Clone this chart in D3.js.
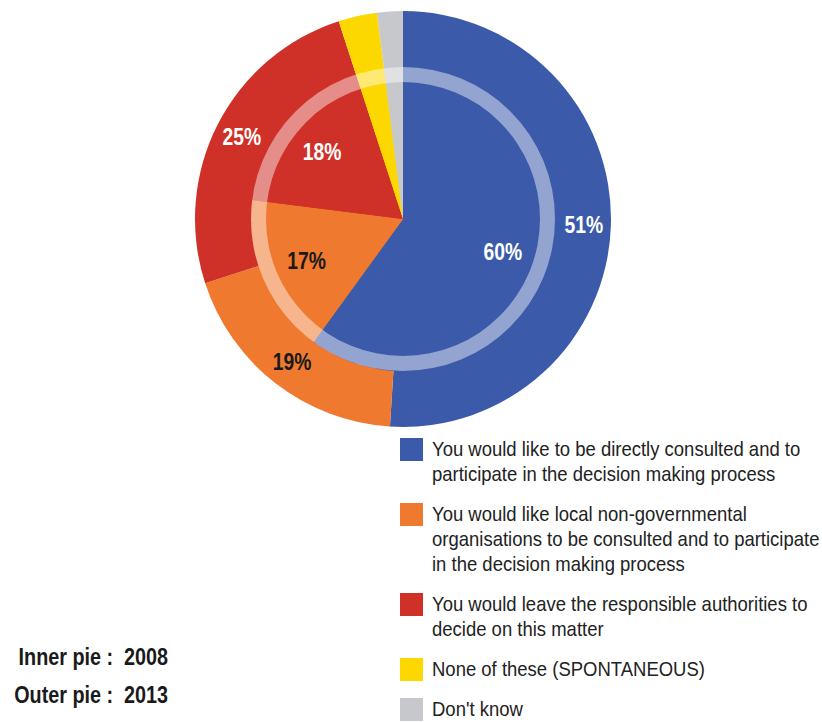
<!DOCTYPE html>
<html>
<head>
<meta charset="utf-8">
<script src="https://cdn.jsdelivr.net/npm/d3@7"></script>
<style>
  body { margin: 0; background: #fff; }
  svg { display: block; }
</style>
</head>
<body>
<div id="chart"></div>
<script>
// answer categories (legend text, "\n" marks the line breaks)
const categories = [
    "You would like to be directly consulted and to\nparticipate in the decision making process",
    "You would like local non-governmental\norganisations to be consulted and to participate\nin the decision making process",
    "You would leave the responsible authorities to\ndecide on this matter",
    "None of these (SPONTANEOUS)",
    "Don't know"
];
const inner2008 = [60, 17, 18, 3, 2];
const outer2013 = [51, 19, 25, 3, 2];
const yearNotes = ["Inner pie :  2008", "Outer pie :  2013"];

const width = 822, height = 722;
const cx = 403, cy = 219;
const rOuter = 208, rInner = 152, rRing = 137;

const color = d3.scaleOrdinal()
    .domain(categories)
    .range(["#3b5aa9", "#ef792f", "#cf3128", "#fdd700", "#c6c8cc"]);
const labelColor = d3.scaleOrdinal()
    .domain(categories)
    .range(["#ffffff", "#1a1a1a", "#ffffff", "#1a1a1a", "#1a1a1a"]);

const svg = d3.select("#chart")
    .append("svg")
        .attr("width", width)
        .attr("height", height);

const pie = d3.pie().sort(null).value(d => d.value);
const toRows = vals => categories.map((c, i) => ({ cat: c, value: vals[i] }));

const outerArc = d3.arc().innerRadius(0).outerRadius(rOuter);
const innerArc = d3.arc().innerRadius(0).outerRadius(rInner);
const outerLabelArc = d3.arc().innerRadius(rInner + 29).outerRadius(rInner + 29);
const innerLabelArc = d3.arc().innerRadius(105).outerRadius(105);

const g = svg.append("g").attr("transform", `translate(${cx},${cy})`);

const outerData = pie(toRows(outer2013));
const innerData = pie(toRows(inner2008));

g.append("g").selectAll("path")
    .data(outerData)
    .join("path")
        .attr("d", outerArc)
        .attr("fill", d => color(d.data.cat));

g.append("g").selectAll("path")
    .data(innerData)
    .join("path")
        .attr("d", innerArc)
        .attr("fill", d => color(d.data.cat));

// translucent ring on the seam between the two pies
g.append("path")
    .attr("d", d3.arc().innerRadius(rRing).outerRadius(rInner).startAngle(0).endAngle(2 * Math.PI)())
    .attr("fill", "#ffffff")
    .attr("fill-opacity", 0.45);

const font = "'Liberation Sans', Arial, sans-serif";

// no narrow font installed, so squeeze the bold labels horizontally
function addLabels(data, arc) {
    g.append("g").selectAll("text")
        .data(data.filter(d => d.data.value >= 10))
        .join("text")
            .attr("transform", d => `translate(${arc.centroid(d)}) scale(0.84,1)`)
            .attr("text-anchor", "middle")
            .attr("dominant-baseline", "central")
            .attr("font-family", font)
            .attr("font-weight", "bold")
            .attr("font-size", 23)
            .attr("fill", d => labelColor(d.data.cat))
            .text(d => d.data.value + "%");
}
addLabels(outerData, outerLabelArc);
addLabels(innerData, innerLabelArc);

// legend
const lineH = 25, gap = 15;
let ly = 438;
const legend = svg.append("g").attr("font-family", font)
    .attr("font-size", 20).attr("fill", "#222");
categories.forEach(c => {
    const lines = c.split("\n");
    legend.append("rect")
        .attr("x", 400).attr("y", ly)
        .attr("width", 23).attr("height", 23)
        .attr("fill", color(c));
    legend.append("g")
        .attr("transform", `translate(432,${ly + 18}) scale(0.925,1)`)
        .selectAll("text")
        .data(lines)
        .join("text")
            .attr("x", 0)
            .attr("y", (_, i) => i * lineH)
            .text(d => d);
    ly += lines.length * lineH + gap;
});

// year notes
svg.append("g")
    .attr("font-family", font)
    .attr("font-weight", "bold")
    .attr("font-size", 23)
    .attr("fill", "#1a1a1a")
    .selectAll("text")
    .data(yearNotes)
    .join("text")
        .attr("transform", (_, i) => `translate(168,${665 + i * 38}) scale(0.86,1)`)
        .attr("text-anchor", "end")
        .attr("xml:space", "preserve")
        .style("white-space", "pre")
        .text(d => d);
</script>
</body>
</html>
